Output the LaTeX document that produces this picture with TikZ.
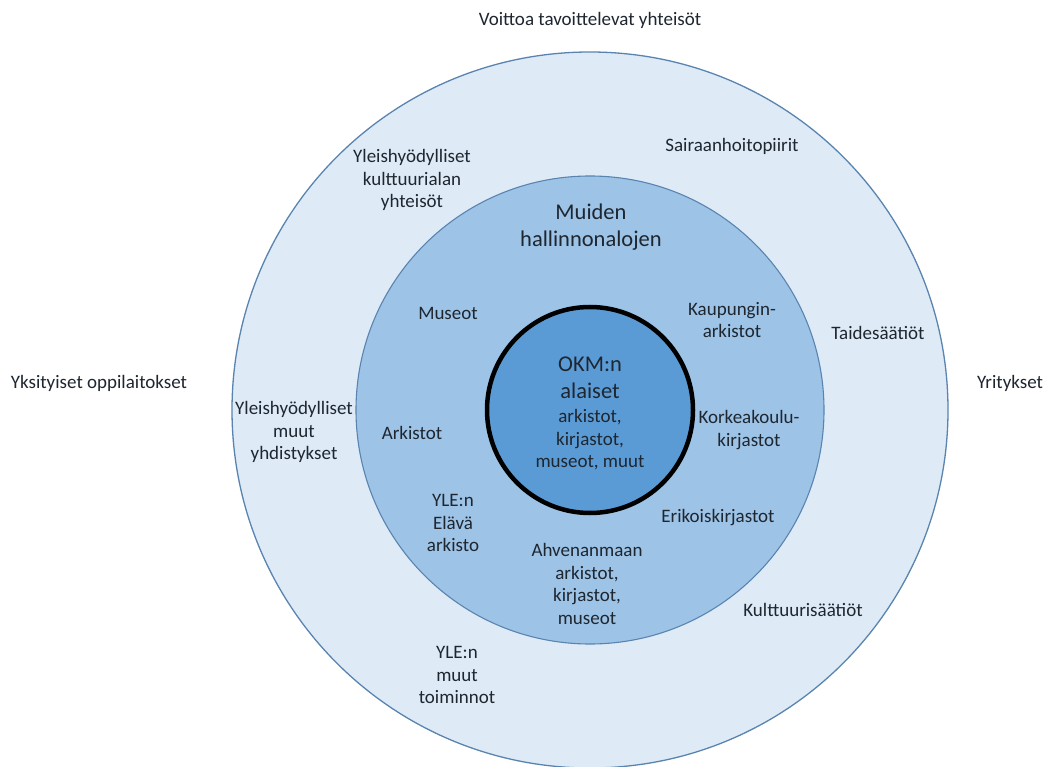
\documentclass[tikz,border=0pt]{standalone}
\usepackage{fontspec}
\setmainfont{Carlito}
\definecolor{outerfill}{HTML}{DEEBF7}
\definecolor{midfill}{HTML}{9DC3E6}
\definecolor{innerfill}{HTML}{5B9BD5}
\definecolor{ringedge}{HTML}{5A84B0}
\definecolor{txt}{HTML}{1E2630}
\tikzset{
  lbl/.style={align=center, inner sep=0pt, text=txt, font=\fontsize{19}{22.5}\selectfont},
  biglbl/.style={align=center, inner sep=0pt, text=txt, font=\fontsize{22.5}{27.5}\selectfont},
  ring/.style={circle, inner sep=0pt, outer sep=0pt},
}
\begin{document}
\begin{tikzpicture}[x=1pt,y=-1pt]
\useasboundingbox (0,0) rectangle (1047,767);
\fill[white] (0,0) rectangle (1047,767);
\begin{scope}
\clip (0,0) rectangle (1047,767);
\node[ring, minimum size=716pt, fill=outerfill, draw=ringedge, line width=1.3pt] (outer) at (590,410) {};
\node[ring, minimum size=468pt, fill=midfill, draw=ringedge, line width=1.1pt] (middle) at (590,410) {};
\node[ring, minimum size=206pt, fill=innerfill, draw=black, line width=4.5pt] (inner) at (590,410) {};
\end{scope}

\node[lbl] (voittoa) at (590,20) {Voittoa tavoittelevat yhteisöt};
\node[lbl] (yks) at (99,383) {Yksityiset oppilaitokset};
\node[lbl] (yrit) at (1010,383) {Yritykset};
\node[lbl] (kult) at (412,180) {Yleishyödylliset\\kulttuurialan\\yhteisöt};
\node[lbl] (sair) at (732,146) {Sairaanhoitopiirit};
\node[biglbl] (muiden) at (591,227) {Muiden\\hallinnonalojen};
\node[lbl] (museot) at (448,313) {Museot};
\node[lbl] (kaup) at (732,320) {Kaupungin-\\arkistot};
\node[lbl] (taide) at (878,333) {Taidesäätiöt};
\node[biglbl] (okm) at (590,378) {OKM:n\\alaiset};
\node[lbl] (okmsub) at (590,440) {arkistot,\\kirjastot,\\museot, muut};
\node[lbl] (yhd) at (294,432) {Yleishyödylliset\\muut\\yhdistykset};
\node[lbl] (ark) at (412,433) {Arkistot};
\node[lbl] (korkea) at (749,430) {Korkeakoulu-\\kirjastot};
\node[lbl] (yle1) at (453,523) {YLE:n\\Elävä\\arkisto};
\node[lbl] (erik) at (718,518) {Erikoiskirjastot};
\node[lbl] (ahv) at (587,584) {Ahvenanmaan\\arkistot,\\kirjastot,\\museot};
\node[lbl] (kult2) at (803,610) {Kulttuurisäätiöt};
\node[lbl] (yle2) at (457,675) {YLE:n\\muut\\toiminnot};
\end{tikzpicture}
\end{document}
